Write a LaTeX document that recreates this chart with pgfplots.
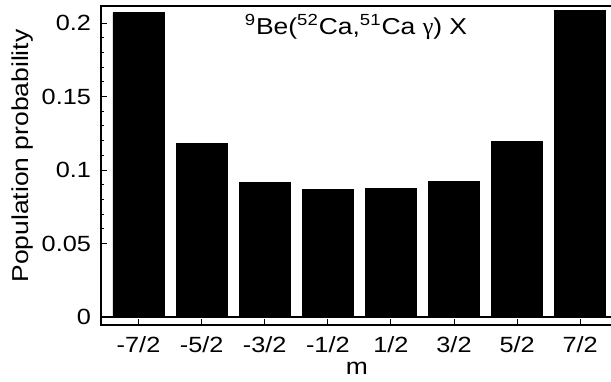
\documentclass[border=0pt]{standalone}
\usepackage{pgfplots}
\pgfplotsset{compat=1.18}
\usepackage{fontspec}
\setmainfont{Liberation Sans}[FakeStretch=1.15]
\newfontfamily\gfont{Liberation Serif}
\begin{document}
\begin{tikzpicture}
\path[use as bounding box] (-50.5pt,-28pt) rectangle (255pt,162.5pt);
\begin{axis}[
 at={(0,0)}, anchor=south west,
 scale only axis, width=256pt, height=159.5pt,
 xmin=-0.595, xmax=7.52, ymin=-0.0054, ymax=0.2116,
 xtick={0,...,7}, xticklabels={-7/2,-5/2,-3/2,-1/2,1/2,3/2,5/2,7/2},
 ytick={0.05,0.1,0.15,0.2}, yticklabels={0.05,0.1,0.15,0.2},
 extra y ticks={0}, extra y tick labels={0},
 extra y tick style={grid=major, major grid style={black, line width=0.7pt}},
 minor y tick num=4,
 xtick pos=left, ytick pos=left,
 tick align=inside,
 major tick length=3pt, minor tick length=1.5pt,
 axis line style={line width=0.8pt},
 tick style={black, line width=0.5pt},
 /pgf/number format/assume math mode=true,
 tick label style={font=\fontsize{11}{13}\selectfont},
 xticklabel style={anchor=base, yshift=-13.5pt},
 yticklabel style={xshift=-1.5pt},
 xlabel={m},
 xlabel style={at={(axis description cs:0.5,0)}, anchor=center, yshift=-21.5pt, font=\fontsize{11.5}{13}\selectfont},
 ylabel={Population probability},
 ylabel style={at={(axis description cs:0,0.53)}, anchor=center, yshift=39pt, font=\fontsize{11.5}{13}\selectfont},
]
\addplot[ybar, bar width=0.81, fill=black, draw=black] coordinates {
 (0,0.207) (1,0.118) (2,0.0914) (3,0.0871) (4,0.0872) (5,0.092) (6,0.1193) (7,0.2088)
};
\node[font=\fontsize{11.5}{13}\selectfont] at (rel axis cs:0.498,0.935)
 {\textsuperscript{9}Be(\textsuperscript{52}Ca,\textsuperscript{51}Ca {\gfont\large γ}) X};
\end{axis}
\end{tikzpicture}
\end{document}
